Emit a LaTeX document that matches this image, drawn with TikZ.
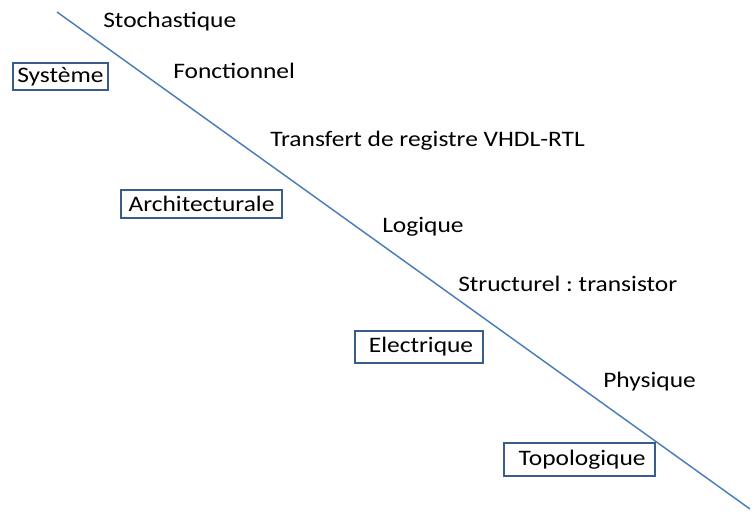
\documentclass[tikz,border=0pt]{standalone}
\usepackage{fontspec}
\setmainfont{Carlito}[FakeStretch=1.15]
\frenchspacing
\usetikzlibrary{backgrounds}
\definecolor{linecol}{HTML}{4A7EBB}
\definecolor{boxcol}{HTML}{385D8A}

\begin{document}
\begin{tikzpicture} [x=0.75pt,y=-0.75pt,
			level/.style={anchor=base west,inner sep=0pt,font=\fontsize{16.6}{19}\selectfont},
			domain box/.style={draw=boxcol,line width=1.1pt,inner sep=0pt,font=\fontsize{16.6}{19}\selectfont},
			axis line/.style={draw=linecol,line width=1.1pt}]
		\useasboundingbox (0,0) rectangle (755,515);

		\coordinate (top) at (57,12);
		\coordinate (bottom) at (750,509);
		\draw [axis line] (top) -- (bottom);

		\node [level] (stoch) at (103,27.7) {Stochastique};
		\node [level] (fonct) at (173,78) {Fonctionnel};
		\node [level] (rtl) at (270,146.7) {Transfert de registre VHDL-RTL};
		\node [level] (logic) at (382,232.7) {Logique};
		\node [level] (struct) at (458,291) {Structurel : transistor};
		\node [level] (phys) at (603,387) {Physique};

		\node [domain box, minimum width=95pt*0.75, minimum height=27pt*0.75] (sys) at (60.4,76.5) {Système};
		\node [domain box, minimum width=161pt*0.75, minimum height=28pt*0.75] (archi) at (201.5,204) {Architecturale};
		\node [domain box, minimum width=128pt*0.75, minimum height=32pt*0.75] (elec) at (419,347) {\hspace{3pt}Electrique};
		\node [domain box, minimum width=151pt*0.75, minimum height=33pt*0.75] (topo) at (579.5,459.5) {\hspace{4pt}Topologique};
		\end{tikzpicture}
\end{document}
